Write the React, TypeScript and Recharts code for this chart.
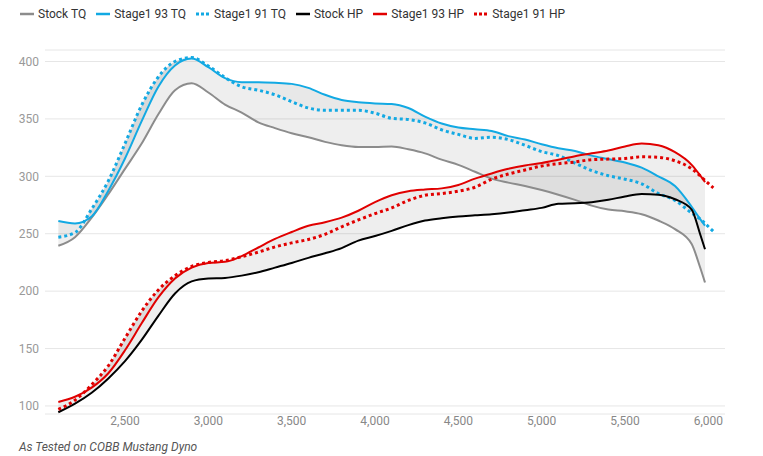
import React from 'react';
import { ComposedChart, Line, Area, XAxis, YAxis, CartesianGrid } from 'recharts';

const rpm = [
  2100, 2200, 2300, 2400, 2500, 2600, 2700, 2800, 2900, 3000,
  3100, 3200, 3300, 3400, 3500, 3600, 3700, 3800, 3900, 4000,
  4100, 4200, 4300, 4400, 4500, 4600, 4700, 4800, 4900, 5000,
  5100, 5200, 5300, 5400, 5500, 5600, 5700, 5800, 5900, 5950,
  5980, 6030,
];

const stockTq = [
  239.5, 247, 264, 284.5, 306.5, 328.5, 354, 375, 381, 373,
  362.5, 355.5, 347, 342, 337.5, 334, 330, 327, 325.5, 325.5,
  326, 323.5, 320, 314.5, 310, 304, 298, 294.5, 291.5, 288,
  284, 279.5, 274.5, 271, 269.5, 267, 261.5, 254, 241, 221,
  207.5, null,
];
const stage93Tq = [
  261, 259, 265, 287.5, 315.5, 348, 378, 396.5, 402.5, 395,
  385.5, 382, 382, 381.5, 380.5, 377, 371, 366.5, 364.5, 363.5,
  363, 359.5, 352, 346, 342.5, 341, 339.5, 335, 332, 328,
  324.5, 322, 318, 315, 312, 307.5, 300, 291.5, 273.5, 263,
  257, null,
];
const stage91Tq = [
  247, 251, 271.5, 296, 328.5, 362, 386.5, 400, 403.5, 396,
  386, 378, 375, 371, 365, 359.5, 357.5, 357.5, 357.5, 355,
  350.5, 349.5, 346.5, 340.5, 336.5, 333, 334, 332, 327, 321.5,
  318, 311.5, 305, 300.5, 297.5, 293.5, 285, 279, 268, 263,
  259, 252,
];
const stockHp = [
  94.5, 102, 111.5, 124, 139, 157.5, 178.5, 198, 208.5, 211,
  211.5, 213.5, 216.5, 220.5, 224.5, 229, 233, 237.5, 244, 248,
  252.5, 257.5, 261.5, 263.5, 265, 266, 267, 268.5, 270.5, 272.5,
  276, 276.5, 277.5, 279.5, 282.5, 284.5, 284, 280, 271, 250,
  236.5, null,
];
const stage93Hp = [
  103.5, 108, 116, 128.5, 148.5, 172, 194.5, 211, 220.5, 224.5,
  225.5, 230.5, 238, 245.5, 251.5, 257, 260, 264, 270, 277.5,
  283.5, 287, 288.5, 289.5, 292.5, 298, 302.5, 306.5, 309.5, 311.5,
  314.5, 317.5, 320, 322.5, 326, 328.5, 327, 321, 310, 301,
  295, null,
];
const stage91Hp = [
  97, 105, 118.5, 135, 159, 182.5, 201, 213.5, 221.5, 225,
  226.5, 230, 234, 238.5, 242, 245, 249.5, 256, 262, 267.5,
  272.5, 279, 283.5, 285, 287, 290.5, 297.5, 302, 305.5, 309,
  311, 312.5, 314.5, 315, 315.5, 317, 316.5, 313.5, 306.5, 300.5,
  296.5, 290,
];

const xTicks = [2500, 3000, 3500, 4000, 4500, 5000, 5500, 6000];
const yTicks = [100, 150, 200, 250, 300, 350, 400];

const BLUE = '#12a9e3';
const RED = '#e10000';
const GRAY = '#8c8c8c';
const BLACK = '#000000';

const band = (a: number | null, b: number | null) =>
  a == null || b == null ? null : [a, b];

const rows = rpm.map((r, i) => ({
  rpm: r,
  stockTq: stockTq[i],
  stage93Tq: stage93Tq[i],
  stage91Tq: stage91Tq[i],
  stockHp: stockHp[i],
  stage93Hp: stage93Hp[i],
  stage91Hp: stage91Hp[i],
  tqLow: band(stockTq[i], stage91Tq[i]),
  tqHigh: band(stage91Tq[i], stage93Tq[i]),
  hpLow: band(stockHp[i], stage91Hp[i]),
  hpHigh: band(stage91Hp[i], stage93Hp[i]),
}));

const legendItems = [
  { name: 'Stock TQ', color: GRAY, dotted: false },
  { name: 'Stage1 93 TQ', color: BLUE, dotted: false },
  { name: 'Stage1 91 TQ', color: BLUE, dotted: true },
  { name: 'Stock HP', color: BLACK, dotted: false },
  { name: 'Stage1 93 HP', color: RED, dotted: false },
  { name: 'Stage1 91 HP', color: RED, dotted: true },
];

const font = 'Roboto, "Noto Sans", sans-serif';

const ChartLegend = () => (
  <div style={{ position: 'absolute', left: 19, top: 5, display: 'flex', fontFamily: font, fontSize: 12, color: '#333' }}>
    {legendItems.map((it) => (
      <div key={it.name} style={{ display: 'flex', alignItems: 'center', marginRight: 9, height: 18 }}>
        <svg width={16} height={6} style={{ marginRight: 3 }}>
          <line
            x1={1}
            y1={3}
            x2={it.dotted ? 14 : 15}
            y2={3}
            stroke={it.color}
            strokeWidth={it.dotted ? 3 : 2.5}
            strokeDasharray={it.dotted ? '3 2' : undefined}
          />
        </svg>
        <span>{it.name}</span>
      </div>
    ))}
  </div>
);

export default function App() {
  return (
    <div style={{ position: 'absolute', left: 0, top: 0, width: 763, height: 456, background: '#fff', overflow: 'hidden' }}>
      <ChartLegend />
      <ComposedChart
        width={763}
        height={456}
        data={rows}
        margin={{ top: 50, right: 38, bottom: 12, left: 0 }}
      >
        <CartesianGrid vertical={false} stroke="#e6e6e6" />
        <XAxis
          dataKey="rpm"
          type="number"
          domain={[2020, 6100]}
          ticks={xTicks}
          tickFormatter={(v: number) => v.toLocaleString('en-US')}
          axisLine={false}
          tickLine={false}
          tickSize={0}
          tickMargin={2}
          height={30}
          tick={{ fill: '#888', fontSize: 12, fontFamily: font }}
        />
        <YAxis
          domain={[93, 410]}
          ticks={yTicks}
          allowDataOverflow
          axisLine={false}
          tickLine={false}
          tickSize={0}
          tickMargin={6}
          width={45}
          tick={{ fill: '#999', fontSize: 12, fontFamily: font }}
        />
        <Area type="monotone" dataKey="tqLow" stroke="none" fill="#000" fillOpacity={0.065} isAnimationActive={false} activeDot={false} />
        <Area type="monotone" dataKey="tqHigh" stroke="none" fill="#000" fillOpacity={0.09} isAnimationActive={false} activeDot={false} />
        <Area type="monotone" dataKey="hpLow" stroke="none" fill="#000" fillOpacity={0.065} isAnimationActive={false} activeDot={false} />
        <Area type="monotone" dataKey="hpHigh" stroke="none" fill="#000" fillOpacity={0.075} isAnimationActive={false} activeDot={false} />
        <Line type="monotone" dataKey="stockTq" stroke={GRAY} strokeWidth={2} dot={false} isAnimationActive={false} />
        <Line type="monotone" dataKey="stage93Tq" stroke={BLUE} strokeWidth={2} dot={false} isAnimationActive={false} />
        <Line type="monotone" dataKey="stage91Tq" stroke={BLUE} strokeWidth={3} strokeDasharray="3 3" dot={false} isAnimationActive={false} />
        <Line type="monotone" dataKey="stockHp" stroke={BLACK} strokeWidth={2} dot={false} isAnimationActive={false} />
        <Line type="monotone" dataKey="stage93Hp" stroke={RED} strokeWidth={2} dot={false} isAnimationActive={false} />
        <Line type="monotone" dataKey="stage91Hp" stroke={RED} strokeWidth={3} strokeDasharray="3 3" dot={false} isAnimationActive={false} />
      </ComposedChart>
      <div style={{ position: 'absolute', left: 19, top: 440, fontFamily: font, fontSize: 12, fontStyle: 'italic', color: '#555', lineHeight: '14px' }}>
        As Tested on COBB Mustang Dyno
      </div>
    </div>
  );
}
